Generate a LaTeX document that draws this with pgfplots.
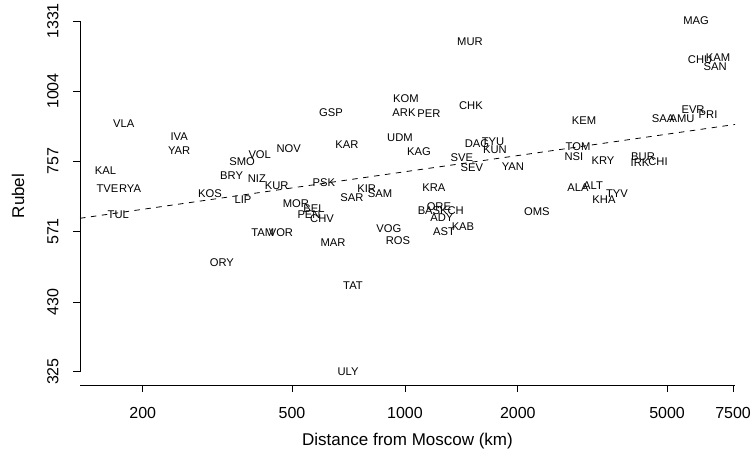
\documentclass[border=0pt]{standalone}
\usepackage{fontspec}
\setmainfont{Liberation Sans}
\usepackage{pgfplots}
\pgfplotsset{compat=1.18}
\begin{document}
\begin{tikzpicture}
\begin{axis}[
  xmode=log, ymode=log,
  scale only axis, width=655pt, height=378pt,
  xmin=136, xmax=7590, ymin=308, ymax=1408,
  axis x line*=bottom, axis y line*=left,
  y axis line style={shorten <=13pt, shorten >=14pt},
  axis line style={line width=0.8pt},
  tick align=outside, major tick length=7pt,
  tick style={line width=0.8pt, black},
  xtick={200,500,1000,2000,5000,7500},
  xticklabels={200,500,1000,2000,5000,7500},
  ytick={325,430,571,757,1004,1331},
  yticklabels={325,430,571,757,1004,1331},
  ticklabel style={font=\fontsize{16}{19}\selectfont},
  /pgf/number format/assume math mode=true,
  yticklabel style={rotate=90, anchor=south},
  xticklabel shift=12pt, yticklabel shift=11pt,
  xlabel={Distance from Moscow (km)},
  ylabel={Rubel},
  label style={font=\fontsize{17}{20}\selectfont},
  xlabel style={at={(axis description cs:0.5,-0.148)}, anchor=center},
  ylabel style={at={(axis description cs:-0.0947,0.5)}, anchor=center},
  clip=false,
]
% fitted line (log-log)
\addplot[black, line width=0.8pt, dash pattern=on 5.5pt off 5.5pt] coordinates {(136,602) (7590,878)};

% region labels
\addplot[draw=none, mark=none, nodes near coords, point meta=explicit symbolic,
  nodes near coords style={anchor=center, inner sep=0pt, font=\fontsize{11.2}{13}\selectfont}]
  table[x=x, y=y, meta=lab] {
x y lab
178 880 VLA
250 835 IVA
250 790 YAR
159 729 KAL
161 678 TVE
185 678 RYA
172 610 TUL
368 755 SMO
410 777 VOL
490 796 NOV
345 714 BRY
403 706 NIZ
455 686 KUR
302 665 KOS
370 649 LIP
608 694 PSK
512 639 MOR
572 626 BEL
555 610 PEN
601 601 CHV
418 568 TAM
467 568 VOR
325 503 ORY
727 459 TAT
705 325 ULY
1006 973 KOM
635 920 GSP
994 920 ARK
1159 916 PER
1500 946 CHK
970 832 UDM
700 809 KAR
1090 786 KAG
1556 812 DAG
1717 819 TYU
1738 793 KUN
1419 768 SVE
1509 738 SEV
1941 741 YAN
791 678 KIR
858 665 SAM
722 655 SAR
1195 681 KRA
1232 631 ORE
1159 621 BAS
1334 621 KCH
1255 604 ADY
1271 570 AST
1428 582 KAB
906 577 VOG
958 550 ROS
643 545 MAR
2249 618 OMS
1491 1224 MUR
3002 890 KEM
2894 803 TOM
2823 771 NSI
3374 759 KRY
2894 681 ALA
3173 686 ALT
3395 649 KHA
3677 665 TYV
4879 898 SAA
5483 898 AMU
5866 930 EVR
6432 913 PRI
4315 771 BUR
4236 752 IRK
4731 755 CHI
5975 1331 MAG
6124 1138 CHU
6840 1148 KAM
6716 1107 SAN
};
\end{axis}
\pgfresetboundingbox
\path[use as bounding box] ([shift={(-80pt,-80pt)}]current axis.south west) rectangle ([shift={(20pt,7pt)}]current axis.north east);
\end{tikzpicture}
\end{document}
